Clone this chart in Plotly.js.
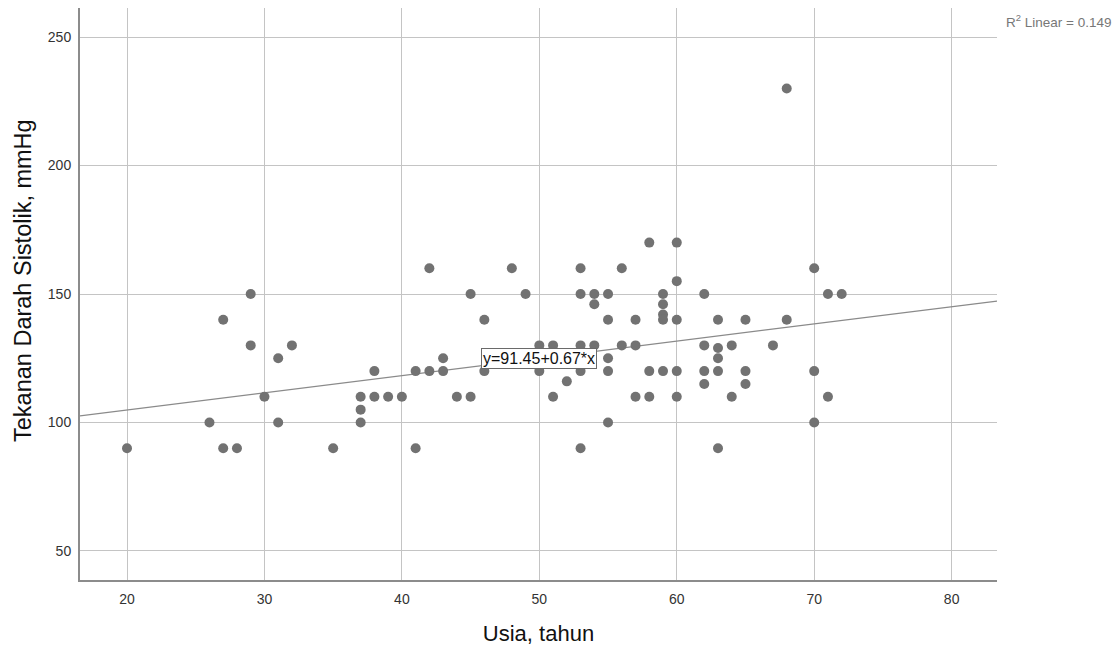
<!DOCTYPE html>
<html>
<head>
<meta charset="utf-8">
<script src="https://cdn.plot.ly/plotly-3.0.1.min.js"></script>
<style>
html,body{margin:0;padding:0;background:#fff;}
#chart{width:1118px;height:650px;}
</style>
</head>
<body>
<div id="chart"></div>
<script>
// Age (years)
var usia = [
  20, 26, 27, 27, 28, 29, 29, 30, 31, 31, 32, 35,
  37, 37, 37, 38, 38, 39, 40, 41, 41, 42, 42, 43, 43, 44,
  45, 45, 46, 46, 48, 49, 50, 50, 50, 51, 51, 52,
  53, 53, 53, 53, 53, 54, 54, 54, 55, 55, 55, 55, 55,
  56, 56, 57, 57, 57, 58, 58, 58, 59, 59, 59, 59, 59,
  60, 60, 60, 60, 60, 62, 62, 62, 62, 63, 63, 63, 63, 63,
  64, 64, 65, 65, 65, 67, 68, 68, 70, 70, 70, 71, 71, 72
];
// Systolic blood pressure (mmHg)
var sistolik = [
  90, 100, 140, 90, 90, 150, 130, 110, 125, 100, 130, 90,
  110, 105, 100, 120, 110, 110, 110, 120, 90, 160, 120, 125, 120, 110,
  150, 110, 140, 120, 160, 150, 130, 125, 120, 130, 110, 116,
  160, 150, 130, 120, 90, 150, 146, 130, 150, 140, 125, 120, 100,
  160, 130, 140, 130, 110, 170, 120, 110, 150, 146, 142, 140, 120,
  170, 155, 140, 120, 110, 150, 130, 120, 115, 140, 129, 125, 120, 90,
  130, 110, 140, 120, 115, 130, 230, 140, 160, 120, 100, 150, 110, 150
];
// Fit line: y = intercept + slope * x
var intercept = 91.45;
var slope = 0.67;
var rSquared = 0.149;
var xRange = [16.58, 83.3];
var yRange = [38.7, 261.3];
var xTicks = [20, 30, 40, 50, 60, 70, 80];
var yTicks = [50, 100, 150, 200, 250];
var xTitle = 'Usia, tahun';
var yTitle = 'Tekanan Darah Sistolik, mmHg';

var fitX = xRange.slice();
var fitY = fitX.map(function(v){ return intercept + slope * v; });

var font = "Arial, 'Liberation Sans', sans-serif";

var traces = [
  {
    x: fitX, y: fitY, mode: 'lines', type: 'scatter',
    line: {color: '#8a8a8a', width: 1.2},
    hoverinfo: 'skip', showlegend: false
  },
  {
    x: usia, y: sistolik, mode: 'markers', type: 'scatter',
    marker: {size: 10, color: '#727272', line: {width: 0}},
    showlegend: false
  }
];

var layout = {
  width: 1118, height: 650,
  margin: {l: 80, r: 121, t: 8, b: 70},
  paper_bgcolor: '#ffffff', plot_bgcolor: '#ffffff',
  font: {family: font, color: '#333333', size: 14},
  xaxis: {
    range: xRange, tickvals: xTicks, ticktext: xTicks.map(String),
    showgrid: true, gridcolor: '#c4c4c4', gridwidth: 1,
    zeroline: false, showline: true, linecolor: '#8c8c8c', linewidth: 2,
    ticks: 'outside', ticklen: 5, tickcolor: 'rgba(0,0,0,0)',
    tickfont: {family: font, size: 14, color: '#333333'},
    title: {text: xTitle, font: {family: font, size: 22, color: '#111111'}, standoff: 20}
  },
  yaxis: {
    range: yRange, tickvals: yTicks, ticktext: yTicks.map(String),
    showgrid: true, gridcolor: '#c4c4c4', gridwidth: 1,
    zeroline: false, showline: true, linecolor: '#8c8c8c', linewidth: 2,
    ticks: 'outside', ticklen: 4, tickcolor: 'rgba(0,0,0,0)',
    tickfont: {family: font, size: 14, color: '#333333'}
  },
  annotations: [
    {
      x: -0.0622, y: 0.5245, xref: 'paper', yref: 'paper',
      xanchor: 'center', yanchor: 'middle', textangle: -90,
      text: yTitle, showarrow: false,
      font: {family: font, size: 23.5, color: '#111111'}
    },
    {
      x: 50, y: 125, xref: 'x', yref: 'y',
      text: 'y=' + intercept.toFixed(2) + '+' + slope.toFixed(2) + '*x',
      showarrow: false, bgcolor: '#ffffff', bordercolor: '#6a6a6a', borderwidth: 1, borderpad: 1,
      font: {family: font, size: 16, color: '#111111'}
    },
    {
      x: 1.1265, y: 0.978, xref: 'paper', yref: 'paper', xanchor: 'right', yanchor: 'middle',
      text: 'R<sup>2</sup> Linear = ' + rSquared.toFixed(3),
      showarrow: false, font: {family: font, size: 13.5, color: '#777777'}
    }
  ]
};

Plotly.newPlot('chart', traces, layout, {displayModeBar: false, staticPlot: true});
</script>
</body>
</html>
